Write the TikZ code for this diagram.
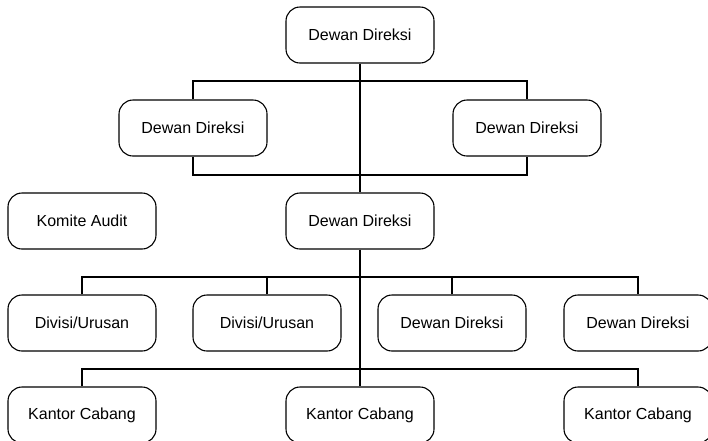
\documentclass[tikz,border=0pt]{standalone}
\usepackage{fontspec}
\setmainfont{Liberation Sans}
\usepackage{tikz}

\begin{document}
\begin{tikzpicture}[x=1pt,y=-1pt,
    unit/.style={draw,line width=1.1pt,rounded corners=14pt,
      minimum width=148pt,minimum height=56pt,
      font=\fontsize{16}{19}\selectfont},
    link/.style={line width=1.1pt}]
  \clip (0,0) rectangle (708,440);

  \node[unit] (top)   at (360,35)  {Dewan Direksi};
  \node[unit] (dl)    at (193,128) {Dewan Direksi};
  \node[unit] (dr)    at (527,128) {Dewan Direksi};
  \node[unit] (audit) at (82,221)  {Komite Audit};
  \node[unit] (mid)   at (360,221) {Dewan Direksi};

  \node[unit] (d1) at (82,323)  {Divisi/Urusan};
  \node[unit] (d2) at (267,323) {Divisi/Urusan};
  \node[unit] (d3) at (452,323) {Dewan Direksi};
  \node[unit] (d4) at (638,323) {Dewan Direksi};

  \node[unit] (k1) at (82,415)  {Kantor Cabang};
  \node[unit] (k2) at (360,415) {Kantor Cabang};
  \node[unit] (k3) at (638,415) {Kantor Cabang};

  \draw[link] (top.south) -- (mid.north);
  \draw[link] (dl.north) -- (dl.north |- 0,81) -- (dr.north |- 0,81) -- (dr.north);
  \draw[link] (dl.south) -- (dl.south |- 0,175) -- (dr.south |- 0,175) -- (dr.south);

  \draw[link] (mid.south) -- (k2.north);
  \draw[link] (d1.north) -- (d1.north |- 0,277) -- (d4.north |- 0,277) -- (d4.north);
  \draw[link] (d2.north) -- (d2.north |- 0,277);
  \draw[link] (d3.north) -- (d3.north |- 0,277);
  \draw[link] (k1.north) -- (k1.north |- 0,369) -- (k3.north |- 0,369) -- (k3.north);
\end{tikzpicture}
\end{document}
